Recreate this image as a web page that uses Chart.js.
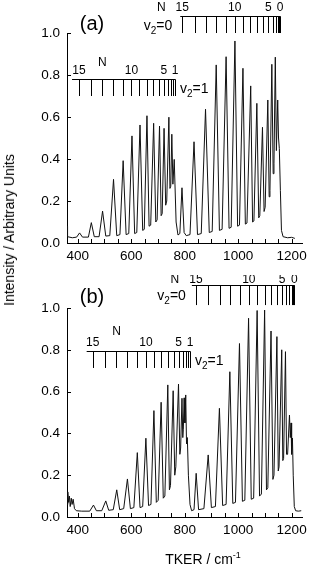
<!DOCTYPE html>
<html>
<head>
<meta charset="utf-8">
<script src="https://cdn.jsdelivr.net/npm/chart.js@4.4.1/dist/chart.umd.min.js"></script>
<style>
  body { margin: 0; background: #fff; }
  #wrap { position: relative; width: 312px; height: 567px; font-family: "Liberation Sans", Arial, sans-serif; color: #000; }
  canvas { position: absolute; left: 0; }
  #ytitle { position: absolute; left: 9px; top: 230px; transform: translate(-50%, -50%) rotate(-90deg); white-space: nowrap; font-size: 14px; }
  #xtitle { position: absolute; left: 203px; top: 558px; transform: translate(-50%, -50%); white-space: nowrap; font-size: 14px; }
  #xtitle sup { font-size: 9px; vertical-align: 6px; }
</style>
</head>
<body>
<div id="wrap">
  <canvas id="chartA" width="312" height="275" style="top:0"></canvas>
  <canvas id="chartB" width="312" height="292" style="top:275px"></canvas>
  <div id="ytitle">Intensity / Arbitrary Units</div>
  <div id="xtitle">TKER / cm<sup>-1</sup></div>
</div>
<script>
// spectrum (a): TKER (cm-1) and intensity
const tkerA = [360, 362, 380, 396, 407, 418, 440, 451, 462, 480, 493, 505, 520, 534, 546, 558, 570, 581, 591, 603,
  613, 621, 633, 643, 649, 659, 667, 673, 684, 692, 697, 706, 712, 716, 723, 729, 733, 741, 745, 748,
  752, 756, 761, 768, 775, 782, 790, 798, 806, 820, 835, 848, 862, 878, 892, 903, 918, 930, 940, 955,
  966, 974, 988, 998, 1005, 1018, 1027, 1033, 1047, 1054, 1059, 1070, 1077, 1081, 1091, 1097, 1101, 1111, 1116, 1119,
  1126, 1131, 1134, 1139, 1143, 1148, 1151, 1154, 1158, 1162, 1168, 1185, 1200, 1212];
const intensityA = [0.08, 0.03, 0.025, 0.028, 0.048, 0.028, 0.028, 0.097, 0.03, 0.03, 0.152, 0.033, 0.035, 0.303, 0.035, 0.04, 0.392, 0.04, 0.045, 0.51,
  0.045, 0.05, 0.562, 0.06, 0.065, 0.606, 0.08, 0.085, 0.57, 0.1, 0.11, 0.557, 0.13, 0.14, 0.546, 0.18, 0.2, 0.599, 0.26, 0.27,
  0.518, 0.28, 0.398, 0.1, 0.038, 0.045, 0.263, 0.05, 0.035, 0.04, 0.482, 0.04, 0.045, 0.637, 0.05, 0.055, 0.848, 0.06, 0.065, 0.887,
  0.07, 0.075, 0.962, 0.08, 0.085, 0.832, 0.09, 0.095, 0.748, 0.1, 0.105, 0.665, 0.12, 0.13, 0.551, 0.15, 0.17, 0.681, 0.22, 0.25,
  0.851, 0.33, 0.38, 0.885, 0.44, 0.681, 0.5, 0.45, 0.25, 0.06, 0.03, 0.025, 0.027, 0.022];

// spectrum (b)
const tkerB = [360, 363, 366, 369, 372, 376, 379, 383, 388, 395, 415, 445, 459, 470, 490, 505, 516, 533, 546, 557,
  572, 586, 597, 610, 623, 633, 643, 655, 665, 674, 685, 694, 701, 712, 720, 726, 737, 743, 747, 757,
  763, 767, 777, 782, 785, 790, 793, 795, 798, 801, 804, 807, 810, 814, 820, 826, 835, 843, 852, 872,
  888, 900, 915, 930, 942, 955, 969, 980, 990, 1005, 1016, 1025, 1039, 1049, 1058, 1071, 1080, 1087, 1099, 1106,
  1111, 1123, 1130, 1134, 1145, 1150, 1153, 1163, 1167, 1170, 1177, 1181, 1185, 1192, 1195, 1198, 1200, 1203, 1206, 1210,
  1215, 1225, 1236];
const intensityB = [0.06, 0.12, 0.07, 0.1, 0.05, 0.09, 0.06, 0.085, 0.04, 0.03, 0.028, 0.028, 0.057, 0.03, 0.03, 0.077, 0.032, 0.035, 0.13, 0.035,
  0.04, 0.182, 0.04, 0.045, 0.308, 0.045, 0.05, 0.377, 0.055, 0.06, 0.509, 0.07, 0.08, 0.549, 0.09, 0.1, 0.632, 0.13, 0.15, 0.604,
  0.2, 0.24, 0.636, 0.3, 0.33, 0.568, 0.38, 0.42, 0.57, 0.45, 0.584, 0.35, 0.38, 0.2, 0.06, 0.03, 0.035, 0.209, 0.035, 0.04,
  0.297, 0.045, 0.05, 0.52, 0.055, 0.06, 0.695, 0.065, 0.07, 0.83, 0.075, 0.08, 0.951, 0.085, 0.09, 0.988, 0.1, 0.11, 0.99, 0.13,
  0.14, 0.89, 0.18, 0.2, 0.863, 0.22, 0.24, 0.8, 0.27, 0.28, 0.791, 0.3, 0.3, 0.488, 0.38, 0.45, 0.3, 0.378, 0.2, 0.05,
  0.03, 0.028, 0.03];

// rotational assignment combs (N labels and line positions in cm-1)
const rotN0 = [15, 14, 13, 12, 11, 10, 9, 8, 7, 6, 5, 4, 3, 2, 1, 0];
const rotN1 = [15, 14, 13, 12, 11, 10, 9, 8, 7, 6, 5, 4, 3, 2, 1];
const labelledN0 = [15, 10, 5, 0];
const labelledN1 = [15, 10, 5, 1];
const ladderA0 = [791, 837, 881, 919, 955, 987, 1017, 1044, 1069, 1093, 1113, 1130, 1141, 1148, 1154, 1157];
const ladderA1 = [405, 450, 492, 531, 568, 601, 631, 658, 682, 704, 722, 737, 749, 758, 764];
const ladderB0 = [842, 889, 931, 970, 1006, 1040, 1071, 1099, 1124, 1146, 1164, 1180, 1192, 1201, 1207, 1210];
const ladderB1 = [456, 502, 545, 584, 621, 655, 685, 713, 737, 759, 777, 792, 805, 814, 820];

const yTickValues = [0, 0.2, 0.4, 0.6, 0.8, 1.0];
const xTickValues = [400, 450, 500, 550, 600, 650, 700, 750, 800, 850, 900, 950, 1000, 1050, 1100, 1150, 1200];

const FONT = '"Liberation Sans", Arial, sans-serif';

function drawV2(ctx, sub, rest, x, y, align) {
  ctx.font = '14px ' + FONT;
  const w1 = ctx.measureText('v').width;
  const w3 = ctx.measureText(rest).width;
  ctx.font = '10px ' + FONT;
  const w2 = ctx.measureText(sub).width;
  const x0 = align === 'right' ? x - (w1 + w2 + w3) : x;
  ctx.textAlign = 'left';
  ctx.textBaseline = 'alphabetic';
  ctx.font = '14px ' + FONT;
  ctx.fillText('v', x0, y);
  ctx.fillText(rest, x0 + w1 + w2, y);
  ctx.font = '10px ' + FONT;
  ctx.fillText(sub, x0 + w1, y + 4);
}

// draws inward axis ticks, the N combs and the panel letter
const decorPlugin = {
  id: 'decor',
  afterDraw(chart, args, opts) {
    const { ctx, chartArea } = chart;
    const xs = chart.scales.x, ys = chart.scales.y;
    ctx.save();
    ctx.strokeStyle = '#000';
    ctx.fillStyle = '#000';
    ctx.lineWidth = 1;

    ctx.beginPath();
    yTickValues.forEach(v => {
      const py = Math.round(ys.getPixelForValue(v)) + 0.5;
      ctx.moveTo(chartArea.left, py);
      ctx.lineTo(chartArea.left + 4, py);
    });
    xTickValues.forEach(v => {
      const px = Math.round(xs.getPixelForValue(v)) + 0.5;
      ctx.moveTo(px, chartArea.bottom);
      ctx.lineTo(px, chartArea.bottom - 4);
    });
    ctx.stroke();

    opts.combs.forEach(c => {
      const top = Math.round(ys.getPixelForValue(c.lineY)) + 0.5;
      const bot = ys.getPixelForValue(c.bottomY);
      const pxs = c.pos.map(v => xs.getPixelForValue(v));
      ctx.beginPath();
      ctx.moveTo(pxs[0] - c.ext, top);
      ctx.lineTo(pxs[pxs.length - 1] + 0.5, top);
      pxs.forEach(px => {
        const p = Math.round(px) + 0.5;
        ctx.moveTo(p, top);
        ctx.lineTo(p, bot);
      });
      ctx.stroke();

      ctx.font = '12px ' + FONT;
      ctx.textAlign = 'center';
      ctx.textBaseline = 'alphabetic';
      c.nums.forEach((n, i) => {
        if (c.labelled.includes(n)) ctx.fillText(String(n), pxs[i], top - c.numGap);
      });
      // "N" header
      if (c.nAt === 'left') {
        ctx.fillText('N', pxs[0] - 21, top - c.numGap);
      } else {
        ctx.fillText('N', pxs[c.nums.indexOf(13)], top - c.nGap);
      }
      const mid = (top + bot) / 2 + 5;
      if (c.vSide === 'left') drawV2(ctx, '2', '=' + c.v, pxs[0] - 10, mid, 'right');
      else drawV2(ctx, '2', '=' + c.v, pxs[pxs.length - 1] + 5, mid, 'left');
    });

    ctx.font = '20px ' + FONT;
    ctx.textAlign = 'center';
    ctx.textBaseline = 'alphabetic';
    ctx.fillText(opts.letter, 92, opts.letterY);
    ctx.restore();
  }
};

function makeChart(id, xs, ys, xAxisHeight, decor) {
  const points = xs.map((x, i) => ({ x: x, y: ys[i] }));
  return new Chart(document.getElementById(id).getContext('2d'), {
    type: 'line',
    data: {
      datasets: [{
        data: points,
        borderColor: '#111',
        borderWidth: 1,
        pointRadius: 0,
        tension: 0,
        fill: false
      }]
    },
    options: {
      responsive: false,
      animation: false,
      devicePixelRatio: 1,
      layout: { padding: { top: 33, right: 8, left: 0, bottom: 0 } },
      plugins: { legend: { display: false }, tooltip: { enabled: false }, decor: decor },
      scales: {
        x: {
          type: 'linear',
          min: 360,
          max: 1240,
          afterFit: s => { s.height = xAxisHeight; },
          grid: { display: false, drawTicks: false },
          border: { display: true, color: '#000', width: 1 },
          ticks: {
            stepSize: 50,
            autoSkip: false,
            includeBounds: false,
            maxRotation: 0,
            padding: 5,
            color: '#000',
            font: { family: FONT, size: 13.5 },
            callback: v => (v % 200 === 0 ? String(v) : '')
          }
        },
        y: {
          min: 0,
          max: 1.0,
          afterFit: s => { s.width = 67; },
          grid: { display: false, drawTicks: false },
          border: { display: true, color: '#000', width: 1 },
          ticks: {
            stepSize: 0.2,
            padding: 7,
            color: '#000',
            font: { family: FONT, size: 13.5 },
            callback: v => v.toFixed(1)
          }
        }
      }
    },
    plugins: [decorPlugin]
  });
}

makeChart('chartA', tkerA, intensityA, 32, {
  letter: '(a)', letterY: 30,
  combs: [
    { pos: ladderA0, nums: rotN0, labelled: labelledN0, lineY: 1.082, bottomY: 1.0, ext: 2, numGap: 6, nAt: 'left', v: '0', vSide: 'left' },
    { pos: ladderA1, nums: rotN1, labelled: labelledN1, lineY: 0.781, bottomY: 0.70, ext: 7, numGap: 6, nGap: 14, nAt: 'mid', v: '1', vSide: 'right' }
  ]
});

makeChart('chartB', tkerB, intensityB, 50, {
  letter: '(b)', letterY: 28,
  combs: [
    { pos: ladderB0, nums: rotN0, labelled: labelledN0, lineY: 1.11, bottomY: 1.014, ext: 4, numGap: 3, nAt: 'left', v: '0', vSide: 'left' },
    { pos: ladderB1, nums: rotN1, labelled: labelledN1, lineY: 0.794, bottomY: 0.713, ext: 6, numGap: 6, nGap: 17, nAt: 'mid', v: '1', vSide: 'right' }
  ]
});
</script>
</body>
</html>
